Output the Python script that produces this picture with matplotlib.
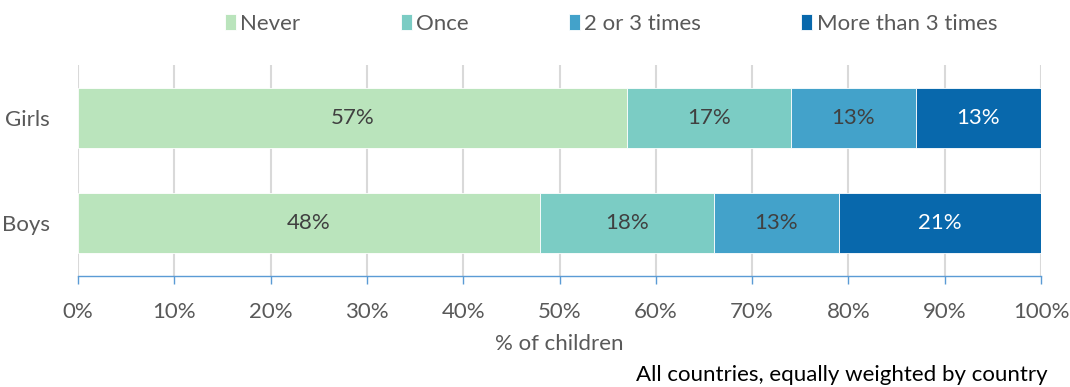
import matplotlib
matplotlib.use("Agg")
import matplotlib.pyplot as plt
import numpy as np

categories = ["Boys", "Girls"]
series_names = ["Never", "Once", "2 or 3 times", "More than 3 times"]
never = [48, 57]
once = [18, 17]
two_three = [13, 13]
more_three = [21, 13]
colors = ["#bae4bc", "#7bccc4", "#43a2ca", "#0868ac"]
label_colors = ["#404040", "#404040", "#404040", "#ffffff"]
xticks = [0, 10, 20, 30, 40, 50, 60, 70, 80, 90, 100]

plt.rcParams['font.family'] = ['Lato', 'DejaVu Sans']
FS = 16
GRAY = "#595959"

fig = plt.figure(figsize=(10.7, 3.87), dpi=100)
ax = fig.add_axes([78/1070, (387-276)/387, (1041-78)/1070, (276-65)/387])

y = np.arange(len(categories))
left = np.zeros(len(categories))
for name, vals, c, lc in zip(series_names, [never, once, two_three, more_three], colors, label_colors):
    vals = np.array(vals, dtype=float)
    ax.barh(y, vals, left=left, height=0.57, color=c, label=name,
            edgecolor="white", linewidth=0.6, zorder=3)
    for yi, l, v in zip(y, left, vals):
        ax.text(l + v/2, yi, f"{int(v)}%", ha="center", va="center",
                color=lc, fontsize=FS, zorder=4)
    left += vals

ax.set_xlim(0, 100)
ax.set_ylim(-0.505, 1.505)
ax.set_xticks(xticks)
ax.set_xticklabels([f"{t}%" for t in xticks], fontsize=FS, color=GRAY)
ax.set_yticks(y)
ax.set_yticklabels(categories, fontsize=FS, color=GRAY)
ax.grid(axis="x", color="#d9d9d9", linewidth=1.5, zorder=0)
ax.set_axisbelow(True)
for s in ["top", "right", "left"]:
    ax.spines[s].set_visible(False)
ax.spines["bottom"].set_color("#5b9bd5")
ax.spines["bottom"].set_linewidth(1.0)
ax.tick_params(axis="x", colors="#5b9bd5", length=6, width=1.0, pad=13, labelcolor=GRAY)
ax.tick_params(axis="y", length=0, pad=20, labelcolor=GRAY)
ax.set_xlabel("% of children", fontsize=FS, color=GRAY, labelpad=8)

fig.legend(loc="center", bbox_to_anchor=(611/1070, 1-24/387), ncol=4, frameon=False,
           fontsize=FS, handlelength=0.5, handleheight=0.7, handletextpad=0.2,
           columnspacing=4.5, labelcolor=GRAY)

fig.text(1048/1070, 1-375/387, "All countries, equally weighted by country",
         ha="right", va="center", fontsize=16, color="#000000")

fig.savefig("out.png", dpi=100)
